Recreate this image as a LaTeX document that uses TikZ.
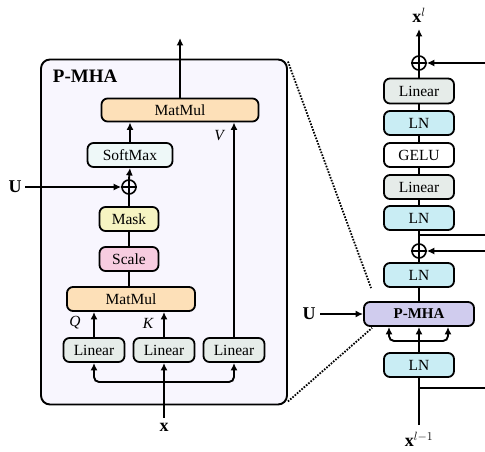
\documentclass[tikz,border=0pt]{standalone}
\usepackage{fontspec}
\setmainfont{Liberation Serif}
\usetikzlibrary{arrows.meta,calc}
\definecolor{cMM}{HTML}{FDE0B8}
\definecolor{cSM}{HTML}{EEF8F8}
\definecolor{cMask}{HTML}{F6F4C2}
\definecolor{cScale}{HTML}{F7CCE0}
\definecolor{cLin}{HTML}{E6ECE9}
\definecolor{cLN}{HTML}{C9EDF4}
\definecolor{cPM}{HTML}{D0CCEE}
\definecolor{cPanel}{HTML}{F8F6FE}
\begin{document}
\begin{tikzpicture}[x=1pt,y=-1pt,
  line width=1.9pt,
  blk/.style={draw, line width=1.8pt, rounded corners=6pt, minimum height=24pt, inner sep=0pt, font=\fontsize{15.5}{17}\selectfont},
  arr/.style={-{Latex[length=7.5pt,width=7pt]}},
  plus/.style={draw, circle, line width=1.6pt, minimum size=14pt, inner sep=0pt},
  lab/.style={font=\fontsize{18}{20}\selectfont\bfseries, inner sep=0pt},
  ilab/.style={font=\fontsize{15.5}{17}\selectfont\itshape, inner sep=0pt},
  dot/.style={line width=1.8pt, dash pattern=on 1.6pt off 1.4pt}
]
\useasboundingbox (0,0) rectangle (485,452);
% ---------- left panel ----------
\node[draw, line width=1.9pt, rounded corners=9pt, fill=cPanel, minimum width=246pt, minimum height=345pt, inner sep=0pt] (panel) at (164,232) {};
\node[font=\fontsize{19}{21}\selectfont\bfseries, anchor=west, inner sep=0pt] (title) at (52,76) {P-MHA};
\node[blk, fill=cMM, minimum width=157pt, minimum height=23pt] (mm2) at (180,110) {MatMul};
\node[blk, fill=cSM, minimum width=85pt] (sm) at (130,155) {SoftMax};
\node[plus] (pl) at (129,187) {};
\draw[line width=1.6pt] (pl.north) -- (pl.south) (pl.west) -- (pl.east);
\node[blk, fill=cMask, minimum width=59pt] (mask) at (129,219) {Mask};
\node[blk, fill=cScale, minimum width=59pt] (scale) at (129,259) {Scale};
\node[blk, fill=cMM, minimum width=128pt] (mm1) at (131,299) {MatMul};
\node[blk, fill=cLin, minimum width=61pt] (lin1) at (94,350) {Linear};
\node[blk, fill=cLin, minimum width=61pt] (lin2) at (164,350) {Linear};
\node[blk, fill=cLin, minimum width=61pt] (lin3) at (234,350) {Linear};
\coordinate (topout) at (180,38);
\draw[arr] (mm2.north) -- (topout);
\draw[arr] (sm.north) -- (sm.north |- mm2.south);
\draw[arr] (pl.north) -- (sm.south);
\draw (mask.north) -- (pl.south);
\draw (scale.north) -- (mask.south);
\draw (mm1.north -| scale.north) -- (scale.south);
\node[lab] (U1) at (15,187) {U};
\draw[arr] (U1.east) ++(3,0) -- (pl.west);
\draw[arr] (lin3.north) -- (lin3.north |- mm2.south);
\node[ilab] (V) at (219,136) {V};
\draw[arr] (lin1.north) -- (lin1.north |- mm1.south);
\draw[arr] (lin2.north) -- (lin2.north |- mm1.south);
\node[ilab] (Q) at (75,323) {Q};
\node[ilab] (K) at (148,323) {K};
\node[lab] (x0) at (164,427) {x};
\coordinate (split) at (164,382);
\draw[arr] (x0.north) ++(0,-4) -- (lin2.south);
\draw[arr, rounded corners=5pt] (split) -| (lin1.south);
\draw[arr, rounded corners=5pt] (split) -| (lin3.south);
% ---------- right stack ----------
\node[font=\fontsize{18}{20}\selectfont, inner sep=0pt] (xl) at (419,15) {$\mathbf{x}^{l}$};
\node[plus] (pT) at (419,63) {};
\draw[line width=1.6pt] (pT.north) -- (pT.south) (pT.west) -- (pT.east);
\node[blk, fill=cLin, minimum width=70pt, minimum height=25pt] (linT) at (419,91) {Linear};
\node[blk, fill=cLN, minimum width=70pt] (lnA) at (419,123) {LN};
\node[blk, fill=white, minimum width=70pt] (gelu) at (419,155) {GELU};
\node[blk, fill=cLin, minimum width=70pt] (linB) at (419,187) {Linear};
\node[blk, fill=cLN, minimum width=70pt] (lnB) at (419,218) {LN};
\node[plus] (pM) at (419,251) {};
\draw[line width=1.6pt] (pM.north) -- (pM.south) (pM.west) -- (pM.east);
\node[blk, fill=cLN, minimum width=70pt] (lnC) at (419,275) {LN};
\node[blk, fill=cPM, minimum width=110pt, font=\fontsize{15}{17}\selectfont\bfseries] (pmha) at (419,314) {P-MHA};
\node[blk, fill=cLN, minimum width=70pt] (lnD) at (419,365) {LN};
\node[font=\fontsize{18}{20}\selectfont, inner sep=0pt] (xl1) at (419,439) {$\mathbf{x}^{l-1}$};
\draw[arr] (pT.north) -- (xl.south |- 0,29);
\draw (linT.north) -- (pT.south);
\draw (lnA.north) -- (linT.south);
\draw (gelu.north) -- (lnA.south);
\draw (linB.north) -- (gelu.south);
\draw (lnB.north) -- (linB.south);
\draw (pM.north) -- (lnB.south);
\draw (lnC.north) -- (pM.south);
\draw (pmha.north) -- (lnC.south);
\coordinate (inT) at (485,63);
\coordinate (inM) at (485,251);
\coordinate (outA) at (485,235);
\coordinate (outB) at (485,388);
\coordinate (brA) at (419,235);
\coordinate (brB) at (419,388);
\coordinate (bot) at (419,425);
\draw[arr] (inT) -- (pT.east);
\draw[arr] (inM) -- (pM.east);
\draw (brA) -- (outA);
\draw (brB) -- (outB);
\draw (bot) -- (lnD.south);
\node[lab] (U2) at (309,314) {U};
\draw[arr] (U2.east) ++(4,0) -- (pmha.west);
\coordinate (sp2) at (419,341);
\draw[arr] (lnD.north) -- (pmha.south);
\draw[arr, rounded corners=5pt] (sp2) -| ($(pmha.south)+(-30,0)$);
\draw[arr, rounded corners=5pt] (sp2) -| ($(pmha.south)+(29,0)$);
% ---------- zoom dotted lines ----------
\draw[dot] ($(panel.north east)+(0,3)$) -- ($(pmha.north west)+(8,-13)$);
\draw[dot] ($(panel.south east)+(0,-4)$) -- ($(pmha.south west)+(9,1)$);
\end{tikzpicture}
\end{document}
